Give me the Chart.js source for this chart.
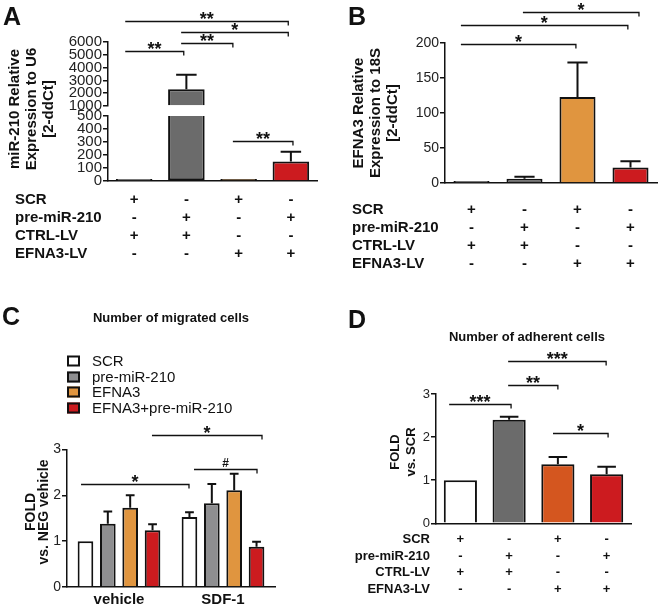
<!DOCTYPE html>
<html>
<head>
<meta charset="utf-8">
<script src="https://cdn.jsdelivr.net/npm/chart.js@4.4.1/dist/chart.umd.min.js"></script>
<style>
  body { margin: 0; background: #fff; }
  #fig { position: relative; width: 660px; height: 608px; overflow: hidden; background: #fff; }
  #fig canvas { position: absolute; }
</style>
</head>
<body>
<div id="fig">
  <canvas id="chartA" width="330" height="300" style="left:0;top:0"></canvas>
  <canvas id="chartAtop" width="330" height="122" style="left:0;top:0"></canvas>
  <canvas id="chartB" width="330" height="300" style="left:330px;top:0"></canvas>
  <canvas id="chartC" width="330" height="308" style="left:0;top:300px"></canvas>
  <canvas id="chartD" width="330" height="308" style="left:330px;top:300px"></canvas>
</div>
<script>
var FONT = '"Liberation Sans", Arial, Helvetica, sans-serif';
Chart.defaults.font.family = FONT;

// conditions of panels A, B, D (one bar each)
var conditions = ["SCR + CTRL-LV", "pre-miR-210 + CTRL-LV", "SCR + EFNA3-LV", "pre-miR-210 + EFNA3-LV"];
var rowNames = ["SCR", "pre-miR-210", "CTRL-LV", "EFNA3-LV"];
var rowSigns = [
    ["+", "-", "+", "-"],
    ["-", "+", "-", "+"],
    ["+", "+", "-", "-"],
    ["-", "-", "+", "+"]
];

// A - miR-210 relative to U6 (broken axis)
var mirMean = [1, 2300, 1, 150];
var mirSem = [0, 1150, 0, 75];
var mirTicksLow = [0, 100, 200, 300, 400, 500];
var mirTicksHigh = [1000, 2000, 3000, 4000, 5000, 6000];
// significance: [from, to, height, label]
var sigAHigh = [[-0.17, 2.95, 7660, "**"], [0.9, 2.95, 6800, "*"], [0.9, 1.89, 5900, "**"], [-0.17, 0.95, 5320, "**"]];
var sigALow = [[1.89, 3.04, 305, "**"]];

// B - EFNA3 relative to 18S
var efnaMean = [1, 6, 123, 22];
var efnaSem = [0, 3, 49, 9];
var efnaTicks = [0, 50, 100, 150, 200];
var sigB = [[-0.2, 1.97, 198, "*"], [-0.2, 2.95, 225.5, "*"], [0.97, 3.16, 244, "*"]];

// C - number of migrated cells
var migGroups = ["vehicle", "SDF-1"];
var migSeries = ["SCR", "pre-miR-210", "EFNA3", "EFNA3+pre-miR-210"];
var migScr = [1.0, 1.53];
var migPre = [1.38, 1.83];
var migEfna = [1.73, 2.11];
var migBoth = [1.24, 0.88];
var migScrSem = [0, 0.10];
var migPreSem = [0.27, 0.42];
var migEfnaSem = [0.27, 0.36];
var migBothSem = [0.13, 0.11];
var migTicks = [0, 1, 2, 3];
var sigC = [[-0.365, 0.673, 2.24, "*"], [0.721, 1.327, 2.58, "#"], [0.317, 1.375, 3.31, "*"]];

// D - number of adherent cells
var adhMean = [1.0, 2.40, 1.37, 1.14];
var adhSem = [0, 0.07, 0.17, 0.17];
var adhTicks = [0, 1, 2, 3];
var sigD = [[-0.23, 1.04, 2.76, "***"], [0.98, 2.0, 3.21, "**"], [0.98, 2.99, 3.77, "***"], [1.9, 3.03, 2.09, "*"]];

var WHITE = "#ffffff", GRAY = "#6b6b6b", GRAY_C = "#8e8e90", ORANGE = "#e0953f",
    ORANGE_D = "#d4561f", RED = "#cc1b1f", INK = "#111111";

function font(size, bold) {
    return (bold ? "bold " : "") + size + "px " + FONT;
}

// draws error bars, brackets, tables and loose text for one panel
function panelDecor(cfg) {
    return {
        id: "panelDecor",
        afterDatasetsDraw: function (chart) {
            var ctx = chart.ctx, xs = chart.scales.x, ys = chart.scales.y;
            ctx.save();
            ctx.strokeStyle = INK;
            ctx.fillStyle = INK;

            // error bars, upper whisker only
            ctx.lineWidth = 2;
            chart.data.datasets.forEach(function (ds, di) {
                if (!ds.sem) return;
                chart.getDatasetMeta(di).data.forEach(function (bar, i) {
                    var m = ds.mean[i], s = ds.sem[i];
                    if (!s || ds.data[i] === null) return;
                    if (m < ys.min || m + s > ys.max) return;
                    var yTop = ys.getPixelForValue(m + s), yBar = ys.getPixelForValue(m);
                    var cap = bar.width * 0.28;
                    ctx.beginPath();
                    ctx.moveTo(bar.x, yBar);
                    ctx.lineTo(bar.x, yTop);
                    ctx.moveTo(bar.x - cap, yTop);
                    ctx.lineTo(bar.x + cap, yTop);
                    ctx.stroke();
                });
            });

            // significance brackets
            (cfg.sig || []).forEach(function (b) {
                var x1 = xs.getPixelForValue(b[0]), x2 = xs.getPixelForValue(b[1]);
                var yy = Math.round(ys.getPixelForValue(b[2])) + 0.5;
                ctx.lineWidth = 1.3;
                ctx.beginPath();
                ctx.moveTo(x1, yy);
                ctx.lineTo(x2, yy);
                ctx.lineTo(x2, yy + 4);
                ctx.stroke();
                ctx.font = b[3] === "#" ? font(12, true) : font(18, true);
                ctx.textAlign = "center";
                ctx.textBaseline = "alphabetic";
                var m = ctx.measureText(b[3]);
                ctx.fillText(b[3], (x1 + x2) / 2, yy - 3 - m.actualBoundingBoxDescent);
            });

            // everything below is placed in page coordinates
            var ox = cfg.ox, oy = cfg.oy;

            // +/- table under the bars
            if (cfg.table) {
                var t = cfg.table;
                ctx.font = font(t.size, true);
                ctx.textBaseline = "alphabetic";
                rowNames.forEach(function (name, r) {
                    ctx.textAlign = t.align;
                    ctx.fillText(name, t.x - ox, t.rows[r] - oy);
                    ctx.textAlign = "center";
                    rowSigns[r].forEach(function (sgn, i) {
                        ctx.fillText(sgn, xs.getPixelForValue(i), t.rows[r] - oy);
                    });
                });
            }

            // category labels (panel C)
            if (cfg.xLabels) {
                ctx.font = font(15, true);
                ctx.textAlign = "center";
                ctx.textBaseline = "alphabetic";
                chart.data.labels.forEach(function (lab, i) {
                    ctx.fillText(lab, xs.getPixelForValue(i), cfg.xLabels - oy);
                });
            }

            // legend (panel C)
            if (cfg.legend) {
                var L = cfg.legend;
                chart.data.datasets.forEach(function (ds, i) {
                    var cy = L.rows[i] - oy;
                    ctx.fillStyle = ds.backgroundColor;
                    ctx.fillRect(L.x - ox, cy - 5.5, 13, 11);
                    ctx.lineWidth = 2;
                    ctx.strokeRect(L.x - ox + 1, cy - 4.5, 11, 9);
                    ctx.fillStyle = INK;
                    ctx.font = font(15, false);
                    ctx.textAlign = "left";
                    ctx.textBaseline = "alphabetic";
                    ctx.fillText(ds.label, L.x - ox + 25, cy + 5.4);
                });
            }

            // loose text: panel letter, titles
            (cfg.texts || []).forEach(function (tx) {
                ctx.font = font(tx.size, tx.bold);
                ctx.textAlign = tx.align || "left";
                ctx.textBaseline = "alphabetic";
                ctx.fillText(tx.t, tx.x - ox, tx.y - oy);
            });

            // rotated axis title, one baseline per line
            if (cfg.yTitle) {
                var yt = cfg.yTitle;
                ctx.font = font(yt.size, true);
                ctx.textAlign = "center";
                ctx.textBaseline = "alphabetic";
                yt.lines.forEach(function (line, i) {
                    ctx.save();
                    ctx.translate(yt.base[i] - ox, yt.cy - oy);
                    ctx.rotate(-Math.PI / 2);
                    ctx.fillText(line, 0, 0);
                    ctx.restore();
                });
            }
            ctx.restore();
        }
    };
}

function barOptions(o) {
    return {
        responsive: false,
        animation: false,
        devicePixelRatio: 1,
        layout: { padding: o.pad },
        plugins: { legend: { display: false }, tooltip: { enabled: false } },
        scales: {
            x: {
                display: o.showX !== false,
                afterFit: function (s) { s.height = 0; },
                ticks: { display: false },
                grid: { display: false },
                border: { color: INK, width: 1.5 }
            },
            y: {
                min: o.ticks[0],
                max: o.ticks[o.ticks.length - 1],
                afterFit: function (s) { s.width = o.yWidth; },
                afterBuildTicks: function (s) {
                    s.ticks = o.ticks.map(function (v) { return { value: v }; });
                },
                ticks: {
                    autoSkip: false, padding: 1, color: "#222", font: { size: o.tickSize },
                    callback: function (v) { return String(v); }
                },
                grid: { drawOnChartArea: false, drawTicks: true, tickLength: 5, color: INK, lineWidth: 1.5 },
                border: { color: INK, width: 1.5 }
            }
        }
    };
}

var colorsAB = [WHITE, GRAY, ORANGE, RED];

// A, lower part (0-500)
new Chart(document.getElementById("chartA"), {
    type: "bar",
    data: {
        labels: conditions,
        datasets: [{
            data: mirMean.map(function (v) { return Math.min(v, mirTicksLow[mirTicksLow.length - 1]); }),
            mean: mirMean,
            sem: mirSem,
            backgroundColor: colorsAB,
            borderColor: INK,
            borderWidth: 2,
            minBarLength: 2,
            borderSkipped: function (c) { return mirMean[c.dataIndex] > 500 ? "end" : "start"; },
            barPercentage: 0.7,
            categoryPercentage: 1
        }]
    },
    options: barOptions({ pad: { left: 58, right: 13, top: 116, bottom: 119 }, ticks: mirTicksLow, tickSize: 15, yWidth: 50 }),
    plugins: [panelDecor({
        ox: 0, oy: 0,
        sig: sigALow,
        table: { x: 15, align: "left", size: 15, rows: [204.4, 222, 239.7, 257.7] },
        texts: [{ t: "A", x: 3, y: 25, size: 25, bold: true }],
        yTitle: { lines: ["miR-210 Relative", "Expression to U6", "[2-ddCt]"], base: [19, 36, 53], cy: 109, size: 15 }
    })]
});

// A, upper part (1000-6000)
new Chart(document.getElementById("chartAtop"), {
    type: "bar",
    data: {
        labels: conditions,
        datasets: [{
            data: mirMean.map(function (v) { return v > mirTicksHigh[0] ? v : null; }),
            mean: mirMean,
            sem: mirSem,
            base: mirTicksHigh[0],
            backgroundColor: colorsAB,
            borderColor: INK,
            borderWidth: 2,
            barPercentage: 0.7,
            categoryPercentage: 1
        }]
    },
    options: barOptions({ pad: { left: 58, right: 13, top: 42, bottom: 16 }, ticks: mirTicksHigh, tickSize: 15, yWidth: 50, showX: false }),
    plugins: [panelDecor({ ox: 0, oy: 0, sig: sigAHigh })]
});

// B
new Chart(document.getElementById("chartB"), {
    type: "bar",
    data: {
        labels: conditions,
        datasets: [{
            data: efnaMean,
            mean: efnaMean,
            sem: efnaSem,
            backgroundColor: colorsAB,
            borderColor: INK,
            borderWidth: 2,
            minBarLength: 2,
            barPercentage: 0.68,
            categoryPercentage: 1
        }]
    },
    options: barOptions({ pad: { left: 65, right: 3, top: 43, bottom: 117 }, ticks: efnaTicks, tickSize: 14, yWidth: 50 }),
    plugins: [panelDecor({
        ox: 330, oy: 0,
        sig: sigB,
        table: { x: 352, align: "left", size: 15, rows: [213.7, 232, 249.7, 267.7] },
        texts: [{ t: "B", x: 348, y: 25, size: 25, bold: true }],
        yTitle: { lines: ["EFNA3 Relative", "Expression to 18S", "[2-ddCt]"], base: [363, 380, 397], cy: 113, size: 15 }
    })]
});

// C
function migSet(i, values, sem, color) {
    return {
        label: migSeries[i],
        data: values,
        mean: values,
        sem: sem,
        backgroundColor: color,
        borderColor: INK,
        borderWidth: 2,
        barPercentage: 0.7,
        categoryPercentage: 0.86
    };
}
new Chart(document.getElementById("chartC"), {
    type: "bar",
    data: {
        labels: migGroups,
        datasets: [
            migSet(0, migScr, migScrSem, WHITE),
            migSet(1, migPre, migPreSem, GRAY_C),
            migSet(2, migEfna, migEfnaSem, ORANGE),
            migSet(3, migBoth, migBothSem, RED)
        ]
    },
    options: barOptions({ pad: { left: 27, right: 55, top: 149.5, bottom: 21 }, ticks: migTicks, tickSize: 14, yWidth: 40 }),
    plugins: [panelDecor({
        ox: 0, oy: 300,
        sig: sigC,
        xLabels: 604,
        legend: { x: 67, rows: [361, 377, 392, 408] },
        texts: [
            { t: "C", x: 2, y: 325, size: 25, bold: true },
            { t: "Number of migrated cells", x: 171, y: 322, size: 13, bold: true, align: "center" }
        ],
        yTitle: { lines: ["FOLD", "vs. NEG vehicle"], base: [35, 48], cy: 512, size: 14 }
    })]
});

// D
new Chart(document.getElementById("chartD"), {
    type: "bar",
    data: {
        labels: conditions,
        datasets: [{
            data: adhMean,
            mean: adhMean,
            sem: adhSem,
            backgroundColor: [WHITE, GRAY, ORANGE_D, RED],
            borderColor: INK,
            borderWidth: 2,
            barPercentage: 0.68,
            categoryPercentage: 1
        }]
    },
    options: barOptions({ pad: { left: 66, right: 29, top: 94, bottom: 84.7 }, ticks: adhTicks, tickSize: 13, yWidth: 40 }),
    plugins: [panelDecor({
        ox: 330, oy: 300,
        sig: sigD,
        table: { x: 430, align: "right", size: 13, rows: [543, 559.7, 576.4, 593] },
        texts: [
            { t: "D", x: 348, y: 328, size: 25, bold: true },
            { t: "Number of adherent cells", x: 527, y: 341, size: 13, bold: true, align: "center" }
        ],
        yTitle: { lines: ["FOLD", "vs. SCR"], base: [399, 415], cy: 452, size: 13 }
    })]
});
</script>
</body>
</html>
